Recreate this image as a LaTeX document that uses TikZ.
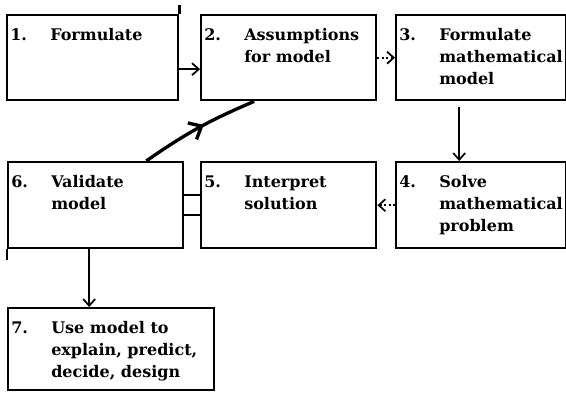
\documentclass[tikz,border=0pt]{standalone}
\usepackage{fontspec}
\setmainfont{DejaVu Serif}
\usetikzlibrary{arrows.meta}
\usetikzlibrary{decorations.markings}
\tikzset{
	box/.style = {draw, line width=1.8pt, anchor=north west, inner sep=0pt},
	txt/.style = {anchor=north west, inner xsep=3pt, inner ysep=8pt, font=\bfseries\fontsize{12}{16.5}\selectfont},
	arr/.style = {line width=1.3pt, -{Straight Barb[length=5pt,width=9pt]}}
}
% number in front, text lines indented
\newcommand{\steplines}[2]{\begin{tabular}{@{}p{30pt}@{}l@{}}#1 & #2\end{tabular}}

\begin{document}
\begin{tikzpicture}[x=0.75pt, y=-0.75pt]
		\useasboundingbox (0,0) rectangle (566,394);
		
		% top row
		\node[box, minimum width=128.25pt, minimum height=63.75pt] (b1) at (6,14) {};
		\node[box, minimum width=131.25pt, minimum height=63.75pt] (b2) at (200,14) {};
		\node[box, minimum width=127.5pt, minimum height=63.75pt] (b3) at (395,14) {};
		\node[txt] (t1) at (b1.north west) {\steplines{1.}{Formulate}};
		\node[txt] (t2) at (b2.north west) {\steplines{2.}{Assumptions\\ & for model}};
		\node[txt] (t3) at (b3.north west) {\steplines{3.}{Formulate\\ & mathematical\\ & model}};
		
		% middle row
		\node[box, minimum width=131.25pt, minimum height=64.5pt] (b6) at (7,161) {};
		\node[box, minimum width=131.25pt, minimum height=64.5pt] (b5) at (200,161) {};
		\node[box, minimum width=127.5pt, minimum height=64.5pt] (b4) at (395,161) {};
		\node[txt] (t6) at (b6.north west) {\steplines{6.}{Validate\\ & model}};
		\node[txt] (t5) at (b5.north west) {\steplines{5.}{Interpret\\ & solution}};
		\node[txt] (t4) at (b4.north west) {\steplines{4.}{Solve\\ & mathematical\\ & problem}};
		
		% last box
		\node[box, minimum width=154.5pt, minimum height=61.5pt] (b7) at (7,307) {};
		\node[txt] (t7) at (b7.north west) {\steplines{7.}{Use model to\\ & explain, predict,\\ & decide, design}};
		
		% stray strokes of the drawing
		\draw[line width=1.8pt] (b1.north east) -- ++(0,-9);
		\draw[line width=1pt] (b6.south west) -- ++(0,11);
		
		% arrows
		\draw[arr] ([yshift=-8.6pt]b1.east) -- ([yshift=-8.6pt]b2.west);
		\draw[arr, dotted] (b2.east) -- (b3.west);
		\draw[arr] ([xshift=-16.5pt, yshift=-4.5pt]b3.south) -- ([xshift=-16.5pt]b3.south |- b4.north);
		\draw[arr, dotted] (b4.west) -- (b5.east);
		\draw[line width=1.3pt] ([yshift=7.5pt]b5.west) -- ([yshift=7.5pt]b5.west -| b6.east);
		\draw[line width=1.3pt] ([yshift=-7.5pt]b5.west) -- ([yshift=-7.5pt]b5.west -| b6.east);
		\draw[arr] ([xshift=-4.9pt]b6.south) -- ([xshift=-4.9pt]b6.south |- b7.north);
		\draw[line width=2.5pt, postaction=decorate, decoration={markings, mark=at position 0.55 with {\arrow{Straight Barb[length=8pt,width=14pt]}}}]
			([xshift=37.9pt]b6.north) to[bend left=6] ([xshift=-25.9pt]b2.south);
	\end{tikzpicture}
\end{document}
